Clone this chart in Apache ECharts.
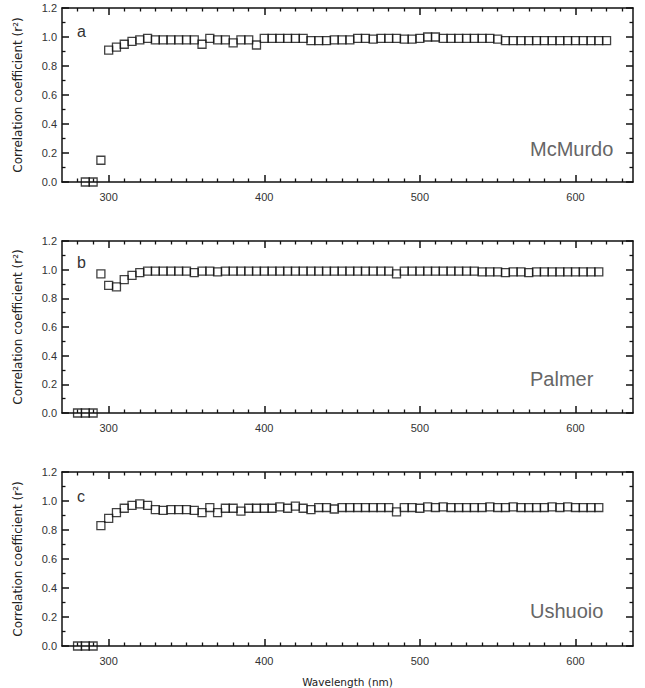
<!DOCTYPE html>
<html>
<head>
<meta charset="utf-8">
<script src="https://cdn.jsdelivr.net/npm/echarts@6/dist/echarts.min.js"></script>
<style>html,body{margin:0;padding:0;background:#fff}#c{width:645px;height:688px}</style>
</head>
<body>
<div id="c"></div>
<script>
// ---- data ----
const xTickLabels = [300, 400, 500, 600];
const xMinorTicks = [280, 290, 310, 320, 330, 340, 350, 360, 370, 380, 390, 410, 420, 430, 440, 450, 460, 470, 480, 490, 510, 520, 530, 540, 550, 560, 570, 580, 590, 610, 620, 630];
const stations = ['McMurdo', 'Palmer', 'Ushuoio'];
const panelLetters = ['a', 'b', 'c'];

const wlA = [285, 290, 295, 300, 305, 310, 315, 320, 325, 330, 335, 340, 345, 350, 355, 360, 365, 370, 375, 380, 385, 390, 395, 400, 405, 410, 415, 420, 425, 430, 435, 440, 445, 450, 455, 460, 465, 470, 475, 480, 485, 490, 495, 500, 505, 510, 515, 520, 525, 530, 535, 540, 545, 550, 555, 560, 565, 570, 575, 580, 585, 590, 595, 600, 605, 610, 615, 620];
const valA = [0.0, 0.0, 0.15, 0.91, 0.93, 0.95, 0.97, 0.98, 0.99, 0.98, 0.98, 0.98, 0.98, 0.98, 0.98, 0.95, 0.99, 0.98, 0.98, 0.96, 0.98, 0.98, 0.945, 0.99, 0.99, 0.99, 0.99, 0.99, 0.99, 0.975, 0.975, 0.975, 0.98, 0.98, 0.98, 0.99, 0.99, 0.985, 0.99, 0.99, 0.99, 0.985, 0.985, 0.99, 1.0, 1.0, 0.99, 0.99, 0.99, 0.99, 0.99, 0.99, 0.99, 0.985, 0.975, 0.975, 0.975, 0.975, 0.975, 0.975, 0.975, 0.975, 0.975, 0.975, 0.975, 0.975, 0.975, 0.975];

const wlB = [280, 285, 290, 295, 300, 305, 310, 315, 320, 325, 330, 335, 340, 345, 350, 355, 360, 365, 370, 375, 380, 385, 390, 395, 400, 405, 410, 415, 420, 425, 430, 435, 440, 445, 450, 455, 460, 465, 470, 475, 480, 485, 490, 495, 500, 505, 510, 515, 520, 525, 530, 535, 540, 545, 550, 555, 560, 565, 570, 575, 580, 585, 590, 595, 600, 605, 610, 615];
const valB = [0.0, 0.0, 0.0, 0.97, 0.89, 0.88, 0.93, 0.96, 0.98, 0.99, 0.99, 0.99, 0.99, 0.99, 0.99, 0.98, 0.99, 0.99, 0.985, 0.99, 0.99, 0.99, 0.99, 0.99, 0.99, 0.99, 0.99, 0.99, 0.99, 0.99, 0.99, 0.99, 0.99, 0.99, 0.99, 0.99, 0.99, 0.99, 0.99, 0.99, 0.99, 0.97, 0.99, 0.99, 0.99, 0.99, 0.99, 0.99, 0.99, 0.99, 0.99, 0.99, 0.985, 0.985, 0.985, 0.98, 0.985, 0.985, 0.98, 0.985, 0.985, 0.985, 0.985, 0.985, 0.985, 0.985, 0.985, 0.985];

const wlC = [280, 285, 290, 295, 300, 305, 310, 315, 320, 325, 330, 335, 340, 345, 350, 355, 360, 365, 370, 375, 380, 385, 390, 395, 400, 405, 410, 415, 420, 425, 430, 435, 440, 445, 450, 455, 460, 465, 470, 475, 480, 485, 490, 495, 500, 505, 510, 515, 520, 525, 530, 535, 540, 545, 550, 555, 560, 565, 570, 575, 580, 585, 590, 595, 600, 605, 610, 615];
const valC = [0.0, 0.0, 0.0, 0.83, 0.88, 0.92, 0.95, 0.97, 0.98, 0.97, 0.94, 0.935, 0.94, 0.94, 0.94, 0.935, 0.92, 0.955, 0.92, 0.95, 0.95, 0.93, 0.95, 0.95, 0.95, 0.95, 0.96, 0.95, 0.965, 0.95, 0.94, 0.955, 0.955, 0.945, 0.955, 0.955, 0.955, 0.955, 0.955, 0.955, 0.955, 0.925, 0.955, 0.955, 0.95, 0.96, 0.955, 0.96, 0.955, 0.955, 0.955, 0.955, 0.955, 0.96, 0.955, 0.955, 0.96, 0.955, 0.955, 0.955, 0.955, 0.96, 0.955, 0.96, 0.955, 0.955, 0.955, 0.955];

const panels = [[wlA, valA], [wlB, valB], [wlC, valC]];

// ---- layout / style ----
const gridTops = [8, 241, 472];
const gridHeights = [174, 172, 174];
const FONT = 'Liberation Sans, Arial, sans-serif';
const WIDE = 'DejaVu Sans, Verdana, sans-serif';
const LINE = { color: '#111', width: 1.5 };

const grids = [], xAxes = [], yAxes = [], series = [], graphics = [];

panels.forEach((p, g) => {
  grids.push({ left: 62, width: 571, top: gridTops[g], height: gridHeights[g] });
  const base = { type: 'value', gridIndex: g, min: 270, max: 637, splitLine: { show: false } };
  const isLast = g === 2;
  xAxes.push(Object.assign({}, base, {
    position: 'bottom',
    axisLine: { show: true, onZero: false, lineStyle: LINE },
    axisTick: { show: true, inside: true, length: 7, customValues: xTickLabels, lineStyle: LINE },
    axisLabel: { show: true, customValues: xTickLabels, fontSize: 11, color: '#333', margin: 9, fontFamily: FONT },
    name: isLast ? 'Wavelength (nm)' : '',
    nameLocation: 'middle', nameGap: 30,
    nameTextStyle: { fontSize: 10.5, color: '#222', fontFamily: WIDE }
  }));
  xAxes.push(Object.assign({}, base, {
    position: 'bottom',
    axisLine: { show: false, onZero: false },
    axisTick: { show: true, inside: true, length: 3.5, customValues: xMinorTicks, lineStyle: { color: '#111', width: 1.3 } },
    axisLabel: { show: false }
  }));
  xAxes.push(Object.assign({}, base, {
    position: 'top',
    axisLine: { show: true, onZero: false, lineStyle: LINE },
    axisTick: { show: true, inside: true, length: 7, customValues: xTickLabels, lineStyle: LINE },
    axisLabel: { show: false }
  }));
  xAxes.push(Object.assign({}, base, {
    position: 'top',
    axisLine: { show: false, onZero: false },
    axisTick: { show: true, inside: true, length: 3.5, customValues: xMinorTicks, lineStyle: { color: '#111', width: 1.3 } },
    axisLabel: { show: false }
  }));

  const ybase = {
    type: 'value', gridIndex: g, min: 0, max: 1.2, interval: 0.2,
    splitLine: { show: false },
    axisLine: { show: true, onZero: false, lineStyle: LINE },
    axisTick: { show: true, inside: true, length: 7, lineStyle: LINE },
    minorTick: { show: true, splitNumber: 2, length: 3.5, lineStyle: { color: '#111', width: 1.3 } }
  };
  yAxes.push(Object.assign({}, ybase, {
    position: 'left',
    axisLabel: { show: true, fontSize: 11, color: '#333', margin: 5, fontFamily: FONT, formatter: v => v.toFixed(1) },
    name: 'Correlation coefficient (r²)',
    nameLocation: 'middle', nameGap: 38,
    nameTextStyle: { fontSize: 12, color: '#222', fontFamily: WIDE }
  }));
  yAxes.push(Object.assign({}, ybase, { position: 'right', axisLabel: { show: false } }));

  series.push({
    type: 'scatter',
    xAxisIndex: g * 4, yAxisIndex: g * 2,
    data: p[0].map((w, i) => [w, p[1][i]]),
    symbol: 'rect', symbolSize: 8,
    itemStyle: { color: 'transparent', borderColor: '#111', borderWidth: 1.3 },
    clip: true, silent: true,
    emphasis: { disabled: true }
  });
});

const letterY = [32, 263, 497];
const stationY = [150, 380, 612];
panelLetters.forEach((t, g) => {
  graphics.push({ type: 'text', left: 77, top: letterY[g] - 9,
    style: { text: t, fontSize: 16, fill: '#333', fontFamily: FONT } });
  graphics.push({ type: 'text', left: 530, top: stationY[g] - 11,
    style: { text: stations[g], fontSize: 20, fill: '#666', fontFamily: FONT } });
});

const chart = echarts.init(document.getElementById('c'), null, { renderer: 'svg' });
chart.setOption({
  animation: false,
  backgroundColor: '#fff',
  grid: grids,
  xAxis: xAxes,
  yAxis: yAxes,
  series: series,
  graphic: graphics
});
</script>
</body>
</html>
